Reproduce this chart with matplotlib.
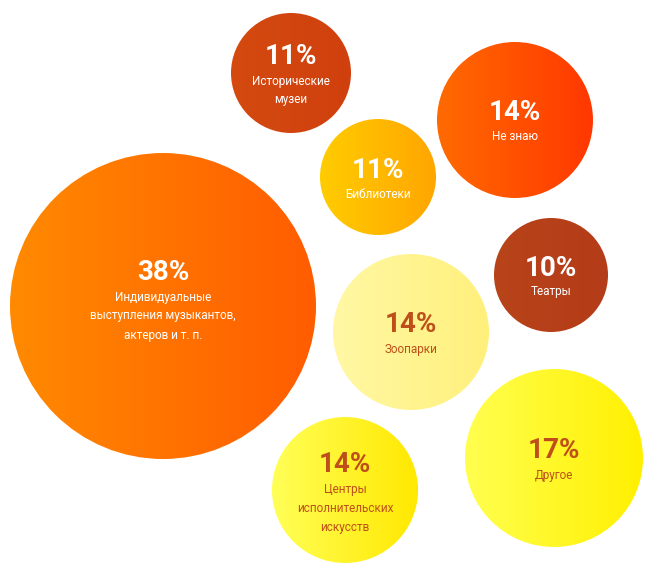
import numpy as np
import matplotlib.pyplot as plt
from matplotlib.patches import Circle
from matplotlib.colors import to_rgb

# данные
values = [38, 11, 14, 11, 10, 14, 17, 14]
labels = ['Индивидуальные\nвыступления музыкантов,\nактеров и т. п.',
          'Исторические\nмузеи',
          'Не знаю',
          'Библиотеки',
          'Театры',
          'Зоопарки',
          'Другое',
          'Центры\nисполнительских\nискусств']

# раскладка пузырей (пиксели)
centers = [(163, 306), (291, 73), (515, 120), (378, 177),
           (551, 275), (411, 332), (554, 458), (345, 490)]
radii = [153, 60, 78, 58, 57, 78, 89, 73]

# цвета: левый край, правый край, цвет текста
grad = [('#ff8a00', '#ff5c00', 'white'),
        ('#d44a10', '#d0400e', 'white'),
        ('#ff6a00', '#ff3800', 'white'),
        ('#ffcc00', '#ffa600', 'white'),
        ('#b8441a', '#b43c18', 'white'),
        ('#fff8a4', '#fff07c', '#bf4f1a'),
        ('#ffff50', '#fff000', '#bf4f1a'),
        ('#ffff58', '#ffe800', '#bf4f1a')]

W, H = 651, 565
fig = plt.figure(figsize=(W / 100, H / 100), dpi=100)
ax = fig.add_axes([0, 0, 1, 1])
ax.set_xlim(0, W)
ax.set_ylim(H, 0)
ax.axis('off')

for v, lab, (cx, cy), r, (c1, c2, tc) in zip(values, labels, centers, radii, grad):
    t = np.linspace(0, 1, 256)
    a, b = np.array(to_rgb(c1)), np.array(to_rgb(c2))
    img = (a[None, :] * (1 - t[:, None]) + b[None, :] * t[:, None])[None, :, :]
    circ = Circle((cx, cy), r, facecolor='none', edgecolor='none')
    ax.add_patch(circ)
    im = ax.imshow(img, extent=(cx - r, cx + r, cy + r, cy - r), aspect='auto', zorder=1)
    im.set_clip_path(circ)

    lines = lab.split('\n')
    n = len(lines)
    top = cy - 7 - 9 * (n - 1)
    if r > 120:
        top -= 8
    ax.text(cx, top, f'{v}%', ha='center', va='center', color=tc,
            fontsize=20, fontweight='bold', family='Roboto', zorder=3)
    for i, ln in enumerate(lines):
        ax.text(cx, top + 24 + 19 * i, ln, ha='center', va='center', color=tc,
                fontsize=8.5, family='Roboto', zorder=3)

fig.savefig('out.png', dpi=100)
